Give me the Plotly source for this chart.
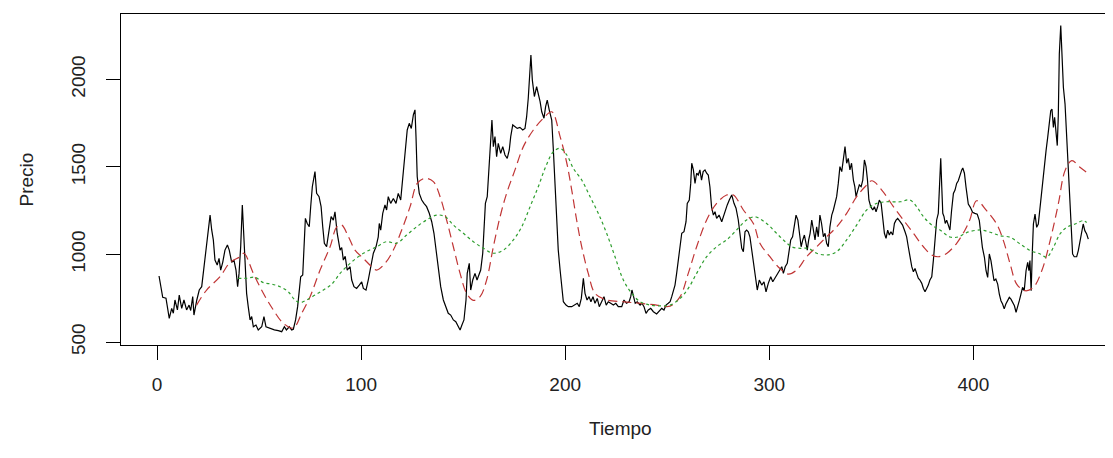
import plotly.graph_objects as go

# ---- data ----
black_t = [1, 2.8, 4.4, 6.0, 7.2, 8.0, 8.8, 10, 10.9, 12.1, 13.2, 14.5, 15.7, 16.5, 17.5, 18.1, 19.5, 20.7, 21.9, 22.7,
           24, 25.1, 26, 26.8, 27.6, 28.4, 29.5, 30.4, 31.2, 32.2, 33.3, 34.5, 35.4, 36.6, 37.7, 38.7, 39.5, 40.2, 41, 41.8,
           42.3, 43.1, 43.9, 44.7, 45.6, 46.4, 47.2, 48.5, 49.6, 51.3, 52.4, 53.4, 55.4, 57.5, 59.4, 61.1, 62.4, 63.4, 64.8, 66,
           66.8, 67.9, 68.9, 69.7, 70.4, 71.4, 72, 72.7, 73.6, 74.6, 75.3, 76.1, 77.4, 78.2, 79.4, 80.4, 81.2, 82, 83.1, 84.4,
           85.3, 86.4, 87.2, 88.3, 89.7, 90.5, 91.3, 92.2, 93.2, 94.6, 95.4, 96.5, 97.8, 99.1, 100.3, 101.1, 102.4, 103.5, 104.4, 105.2,
           106, 107.3, 108.4, 108.9, 109.6, 110.6, 111.7, 112.5, 113.3, 114.5, 115.8, 117.1, 118.2, 119.4, 120.4, 121.5, 122.6, 123.6, 124.6, 125.6,
           126.4, 126.9, 127.5, 128.5, 129.7, 130.8, 132.1, 133.4, 134.6, 135.7, 136.7, 137.8, 139, 140.3, 141.4, 142.7, 143.9, 145.2, 146.4, 147.6,
           148.5, 149.4, 150.4, 151.4, 152, 153, 153.7, 154.7, 155.8, 156.8, 157.8, 158.6, 159.6, 160.2, 160.9, 161.8, 162.8, 163.8, 164.1, 164.8,
           165.6, 166.4, 167.2, 168.4, 169.4, 170.5, 171.6, 172.6, 173.3, 174.3, 175.4, 176.5, 177.8, 179.2, 180.3, 181.1, 181.9, 182.8, 183.2, 183.9,
           184.9, 186, 186.8, 187.7, 188.5, 189.6, 190.4, 191.2, 192.2, 193.4, 194.2, 195, 195.8, 196.6, 197.5, 198.3, 199.1, 200.4, 201.5, 203.2,
           204.8, 205.9, 206.9, 207.9, 208.9, 209.7, 210.7, 211.7, 212.6, 213.6, 214.6, 215.7, 216.7, 217.9, 219, 220.1, 221.1, 222.3, 223.6, 224.8,
           226, 227.7, 228.8, 230, 231.3, 232.1, 232.7, 233.5, 234.3, 235.3, 236.7, 237.6, 238.6, 239.6, 240.7, 241.9, 243.2, 244.8, 246, 247.3,
           248.4, 249.4, 250.5, 251.4, 252.2, 253, 253.8, 254.6, 255.4, 256.3, 257.1, 258.2, 259.2, 259.8, 260.8, 261.5, 262, 262.8, 263.6, 264.4,
           265.2, 266, 266.8, 267.6, 268.5, 269.3, 270.1, 270.9, 271.7, 272.6, 273.4, 274.2, 275.4, 276.7, 277.5, 278.3, 279.4, 280.4, 281.6, 282.7,
           283.7, 284.8, 285.6, 286.5, 287.3, 288.1, 288.9, 289.7, 290.5, 291.4, 292.5, 293.5, 294.1, 295.1, 296.3, 297.4, 298.4, 299.5, 300.7, 301.7,
           302.8, 303.9, 305.2, 306.1, 306.9, 307.8, 308.8, 309.8, 310.5, 311.4, 312.3, 313.1, 314, 314.7, 315.6, 316.4, 317.2, 318, 318.6, 319.3,
           320, 320.8, 321.6, 322.4, 323.2, 324, 324.8, 325.6, 326.5, 327.3, 328.1, 328.9, 329.7, 330.6, 331.4, 332.2, 333, 333.8, 334.6, 335.5,
           336.3, 337.1, 337.9, 338.7, 339.5, 340.3, 341.2, 341.9, 342.5, 343.2, 344.1, 345, 345.8, 346.6, 347.4, 348.1, 348.8, 349.7, 350.7, 351.5,
           352.3, 353.1, 353.9, 354.8, 355.6, 356.4, 357.2, 358, 358.8, 359.6, 360.5, 361.3, 362.1, 362.9, 364.1, 365.3, 366.5, 367.3, 368.1, 368.9,
           369.8, 370.6, 371.4, 372.2, 373, 373.8, 374.7, 375.5, 376.3, 377.1, 377.9, 378.7, 379.6, 380.4, 381.2, 382, 382.8, 383.3, 384, 384.5,
           385, 385.6, 386.2, 386.9, 387.7, 388.5, 389.3, 390.2, 391, 391.8, 392.6, 393.4, 394.3, 394.8, 395.6, 396.4, 397.5, 398.5, 399.6, 400.7,
           401.9, 402.9, 403.6, 404.4, 405.4, 406.2, 407, 407.8, 408.6, 409.3, 410.1, 411, 411.9, 412.7, 413.5, 414.3, 415.1, 415.9, 416.8, 417.6,
           418.4, 419.2, 420.1, 420.9, 421.7, 422.5, 423.3, 424.1, 424.9, 425.8, 426.6, 427.2, 427.7, 428.3, 428.9, 429.4, 430.2, 431, 431.8, 432.3,
           433.1, 433.9, 434.7, 435.6, 436.4, 437.2, 437.9, 438.5, 439.2, 439.8, 440.5, 441.1, 441.6, 442.1, 442.8, 443.3, 444.1, 444.9, 445.7, 446.5,
           447.3, 448, 448.6, 449.4, 450.6, 451.4, 452.2, 453, 453.8, 454.6, 455.5, 456.3]
black_v = [877, 755, 750, 635, 692, 664, 740, 683, 768, 692, 740, 683, 711, 680, 759, 654, 740, 797, 816, 892,
           1007, 1121, 1225, 1140, 1083, 968, 940, 978, 911, 955, 1025, 1054, 1025, 955, 968, 911, 816, 892, 1044, 1283,
           1158, 930, 778, 702, 626, 645, 587, 597, 569, 587, 645, 587, 578, 569, 565, 559, 587, 569, 587, 569,
           573, 626, 702, 797, 873, 883, 1044, 1206, 1177, 1158, 1273, 1387, 1473, 1349, 1330, 1273, 1158, 1064, 1044, 1158,
           1216, 1196, 1244, 1120, 1025, 1040, 968, 990, 911, 930, 854, 816, 806, 825, 844, 806, 797, 854, 911, 968,
           1007, 1044, 1101, 1177, 1139, 1235, 1283, 1254, 1330, 1292, 1320, 1292, 1349, 1311, 1425, 1559, 1711, 1749, 1720, 1797,
           1826, 1673, 1444, 1349, 1311, 1292, 1273, 1235, 1187, 1121, 1025, 911, 816, 740, 702, 664, 654, 626, 616, 587,
           569, 597, 626, 740, 892, 949, 797, 854, 892, 854, 892, 911, 1007, 1121, 1292, 1330, 1521, 1654, 1768, 1616,
           1673, 1559, 1635, 1578, 1616, 1568, 1549, 1597, 1673, 1740, 1730, 1720, 1726, 1711, 1720, 1787, 1892, 2073, 2139, 1996,
           1902, 1958, 1920, 1873, 1815, 1778, 1844, 1882, 1825, 1768, 1597, 1406, 1216, 1025, 911, 816, 730, 711, 702, 702,
           711, 721, 702, 749, 864, 778, 740, 759, 730, 759, 721, 749, 702, 730, 759, 711, 730, 721, 711, 721,
           702, 702, 740, 721, 730, 759, 797, 759, 721, 730, 711, 721, 702, 664, 683, 692, 673, 660, 673, 692,
           683, 711, 721, 730, 759, 797, 825, 892, 968, 1064, 1121, 1130, 1187, 1292, 1311, 1406, 1521, 1483, 1406, 1464,
           1454, 1483, 1425, 1473, 1483, 1464, 1454, 1387, 1273, 1225, 1244, 1206, 1225, 1187, 1216, 1254, 1283, 1311, 1340, 1292,
           1264, 1197, 1101, 1035, 1016, 1130, 1139, 1130, 1101, 1025, 930, 844, 797, 854, 825, 844, 787, 835, 873, 844,
           864, 892, 911, 930, 892, 930, 949, 1025, 1083, 1101, 1158, 1225, 1196, 1121, 1044, 1083, 1111, 1064, 1025, 1083,
           1121, 1197, 1139, 1083, 1158, 1101, 1225, 1177, 1101, 1121, 1064, 1044, 1158, 1225, 1254, 1301, 1330, 1406, 1502, 1473,
           1540, 1616, 1521, 1549, 1483, 1521, 1425, 1387, 1330, 1368, 1397, 1387, 1425, 1540, 1502, 1425, 1311, 1273, 1254, 1273,
           1244, 1273, 1311, 1292, 1216, 1121, 1092, 1139, 1111, 1130, 1111, 1177, 1196, 1206, 1187, 1168, 1130, 1101, 1044, 987,
           930, 901, 920, 892, 864, 854, 835, 806, 787, 806, 825, 854, 873, 968, 1083, 1197, 1235, 1349, 1549, 1387,
           1235, 1216, 1177, 1196, 1168, 1140, 1250, 1349, 1368, 1406, 1421, 1454, 1483, 1494, 1464, 1383, 1288, 1269, 1241, 1235,
           1230, 1193, 1117, 1041, 984, 907, 869, 1003, 965, 907, 850, 860, 831, 774, 736, 717, 689, 717, 736, 755,
           745, 726, 707, 670, 698, 736, 774, 812, 793, 907, 955, 907, 965, 793, 1022, 1174, 1231, 1155, 1174, 1231,
           1345, 1441, 1517, 1593, 1669, 1745, 1821, 1831, 1726, 1783, 1688, 1622, 1793, 2145, 2307, 2125, 1954, 1859, 1669, 1498,
           1288, 1117, 1003, 987, 987, 1022, 1079, 1117, 1174, 1136, 1117, 1088]

red_t = [19.4, 24.3, 30.9, 35.8, 40.7, 42.6, 47.2, 52.1, 57, 61.9, 66.8, 70.9, 75, 79.9, 84.8, 88.1, 90.5, 93.8, 97, 101.1,
         105.2, 107.6, 111.7, 115.8, 119.9, 124, 127.5, 131.3, 135.4, 138.7, 141.9, 145.2, 148.5, 151.7, 155, 158.3, 161.5, 164.8, 168.1, 171.3,
         175.4, 179.5, 184.4, 189.3, 193.4, 197.5, 200.8, 203.2, 205.6, 208.1, 211.3, 214.6, 220.3, 228.5, 236.7, 244.8, 251.4, 256.3, 260.3, 264.4,
         269.3, 274.2, 279.1, 282.4, 287.3, 292.2, 295.4, 300.3, 305.2, 309.3, 313.4, 318.3, 323.2, 328.1, 333, 337.9, 342.8, 346.9, 350.2, 355.1,
         360.8, 365.7, 370.6, 375.5, 379.6, 382.8, 386.9, 391.8, 395.9, 398.3, 401.6, 406.5, 411.4, 414.7, 418, 421.2, 425.3, 429.4, 433.5, 437.6,
         441.6, 444.9, 448.2, 452.2, 455.5]
red_v = [711, 797, 873, 955, 987, 1007, 892, 778, 683, 607, 580, 664, 759, 911, 1044, 1158, 1168, 1101, 1025, 978,
         930, 911, 949, 1025, 1140, 1273, 1406, 1435, 1416, 1330, 1197, 1044, 892, 778, 738, 759, 854, 1044, 1216, 1349,
         1483, 1616, 1711, 1778, 1815, 1673, 1521, 1368, 1197, 1044, 892, 778, 740, 730, 721, 711, 705, 759, 892, 1044,
         1197, 1292, 1340, 1340, 1254, 1177, 1064, 987, 920, 888, 911, 987, 1044, 1101, 1158, 1235, 1330, 1387, 1421, 1368,
         1273, 1197, 1121, 1044, 997, 987, 1006, 1064, 1140, 1200, 1307, 1250, 1174, 1079, 946, 831, 793, 812, 907, 1079,
         1288, 1479, 1536, 1498, 1469]

green_t = [39.8, 43.9, 48, 52.1, 56.2, 60.3, 64.3, 67.6, 70.1, 73.3, 77.4, 81.5, 85.6, 89.7, 94.6, 101.1, 107.6, 112.5, 117.4, 122.3,
           127.2, 132.1, 137, 141.1, 145.2, 150.1, 155, 159.9, 164.8, 169.7, 174.6, 178.7, 182.8, 186.8, 190.4, 194.2, 197.5, 200.8, 204, 208.1,
           212.2, 216.2, 220.3, 224.4, 228.5, 232.6, 236.7, 241.6, 246.5, 251.4, 256.3, 260.3, 264.4, 269.3, 274.2, 279.1, 284, 288.9, 293, 298.7,
           302.8, 306.9, 311, 315.1, 319.1, 323.2, 328.1, 333, 337.9, 342.8, 347.7, 352.6, 357.5, 364.1, 368.9, 372.2, 375.5, 379.6, 383.6, 388.5,
           392.6, 396.7, 403.3, 408.2, 413.1, 418, 422.9, 427.8, 432.7, 435.9, 439.2, 442.4, 445.7, 449.8, 453.8, 455.5]
green_v = [864, 864, 870, 839, 831, 816, 787, 740, 725, 740, 768, 797, 830, 892, 949, 1007, 1044, 1073, 1064, 1111,
           1158, 1197, 1225, 1216, 1168, 1121, 1073, 1035, 1007, 1025, 1083, 1158, 1273, 1387, 1500, 1587, 1606, 1568, 1492, 1425,
           1330, 1235, 1121, 987, 854, 778, 730, 711, 706, 711, 749, 806, 892, 987, 1044, 1083, 1140, 1197, 1215, 1177,
           1130, 1083, 1044, 1035, 1035, 1007, 997, 1016, 1083, 1168, 1254, 1292, 1301, 1301, 1311, 1273, 1216, 1168, 1140, 1100,
           1100, 1125, 1140, 1127, 1107, 1098, 1060, 1022, 1003, 984, 1041, 1117, 1155, 1174, 1193, 1183]

x_ticks = [0, 100, 200, 300, 400]
y_ticks = [500, 1000, 1500, 2000]
x_label = "Tiempo"
y_label = "Precio"

FONT = "Liberation Sans, Arial, sans-serif"

# the page body has an 8px margin, so the figure is drawn 8px smaller and offset
W, H = 1105, 450
ML, MT, MB = 113, 6, 113
PW, PH = W - ML, H - MT - MB

fig = go.Figure()
fig.add_trace(go.Scatter(x=black_t, y=black_v, mode="lines",
                         line=dict(color="black", width=1.2), showlegend=False))
fig.add_trace(go.Scatter(x=red_t, y=red_v, mode="lines", line_shape="spline",
                         line=dict(color="#C03535", width=1.2, dash="9px,5px"), showlegend=False))
fig.add_trace(go.Scatter(x=green_t, y=green_v, mode="lines", line_shape="spline",
                         line=dict(color="#2E9E2E", width=1.2, dash="3px,3px"), showlegend=False))

fig.update_layout(
    width=W, height=H,
    margin=dict(l=ML, r=0, t=MT, b=MB, pad=0),
    paper_bgcolor="white", plot_bgcolor="white",
    font=dict(family=FONT, size=19, color="#222"),
    xaxis=dict(range=[-17.64, 468.4], tickvals=x_ticks, ticktext=[str(v) for v in x_ticks],
               showgrid=False, zeroline=False, showline=True, mirror=True, linecolor="black", linewidth=1,
               ticks="outside", ticklen=14, tickwidth=1, tickcolor="black", ticklabelstandoff=8),
    yaxis=dict(range=[482.9, 2373.5], tickvals=y_ticks, ticktext=[str(v) for v in y_ticks],
               showgrid=False, zeroline=False, showline=True, mirror=False, linecolor="black", linewidth=1,
               ticks="outside", ticklen=14, tickwidth=1, tickcolor="black", tickangle=-90, ticklabelstandoff=13),
    annotations=[
        dict(text=x_label, xref="paper", yref="paper", x=(612 - ML) / PW, y=(337 - 420) / PH,
             xanchor="center", yanchor="middle", showarrow=False, font=dict(size=19)),
        dict(text=y_label, xref="paper", yref="paper", x=(18 - ML) / PW, y=0.5, textangle=-90,
             xanchor="center", yanchor="middle", showarrow=False, font=dict(size=19)),
    ],
)

fig.write_html("out.html")
